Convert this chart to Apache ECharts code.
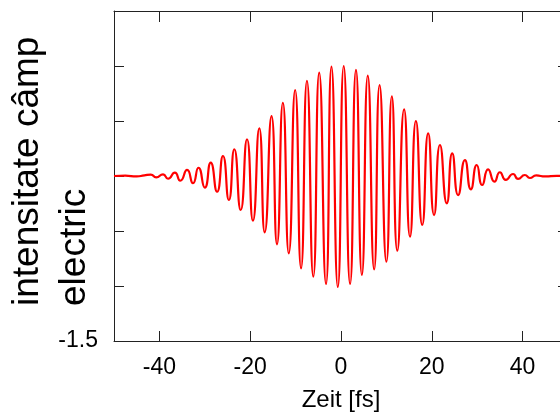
<!DOCTYPE html>
<html>
<head>
<meta charset="utf-8">
<script src="https://cdn.jsdelivr.net/npm/echarts@6/dist/echarts.min.js"></script>
<style>
html,body{margin:0;padding:0;background:#fff;}
#chart{width:560px;height:415px;}
</style>
</head>
<body>
<div id="chart"></div>
<script>
// Time axis values (fs): extrema of the field oscillation
const timeFs = [
  -50, -47.5, -45, -43.3,
  -41.9, -40.7, -39.2, -38.1, -36.6, -35.4, -33.9, -32.6, -31.4, -30.0,
  -28.7, -27.3, -26.0, -24.7, -23.5, -22.1, -20.7, -19.4, -18.0, -16.8,
  -15.3, -14.1, -12.8, -11.5, -10.1, -8.8, -7.5, -6.1, -4.8, -3.3,
  -2.1, -0.7, 0.6, 2.0, 3.3, 4.6, 5.9, 7.3, 8.5, 10.0,
  11.2, 12.4, 13.9, 15.2, 16.5, 17.9, 19.2, 20.5, 21.8, 23.3,
  24.5, 25.8, 27.3, 28.6, 29.9, 31.1, 32.4, 33.8, 35.0, 36.3,
  37.9, 39.0, 40.5, 41.6,
  43.0, 45.0, 47.5, 50
];
// Electric field intensity values at those times
const fieldValues = [
  0, 0.003, -0.004, 0.006,
  0.012, -0.012, 0.015, -0.025, 0.030, -0.043, 0.055, -0.066, 0.075, -0.106,
  0.121, -0.143, 0.182, -0.218, 0.243, -0.309, 0.334, -0.406, 0.434, -0.512,
  0.545, -0.621, 0.666, -0.703, 0.782, -0.839, 0.866, -0.915, 0.939, -0.982,
  0.994, -1.009, 1.000, -0.982, 0.964, -0.900, 0.912, -0.850, 0.827, -0.779,
  0.725, -0.679, 0.606, -0.552, 0.500, -0.445, 0.388, -0.355, 0.282, -0.248,
  0.206, -0.173, 0.145, -0.121, 0.100, -0.082, 0.061, -0.052, 0.034, -0.036,
  0.018, -0.027, 0.009, -0.018,
  0.005, -0.004, 0.002, 0
];
const xTickValues = [-40, -20, 0, 20, 40];
const yTickValues = [-1.5, -1.0, -0.5, 0, 0.5, 1.0, 1.5];
const yTickLabels = ['-1.5', '', '', '', '', '', ''];
const xAxisTitle = 'Zeit [fs]';
const yAxisTitle = 'intensitate câmp\nelectric';

const seriesData = timeFs.map((t, i) => [t, fieldValues[i]]);

const chart = echarts.init(document.getElementById('chart'), null, {renderer: 'canvas'});
const axisColor = '#222';
const font = 'Liberation Sans, Arial, Helvetica, sans-serif';

chart.setOption({
  animation: false,
  backgroundColor: '#fff',
  grid: {left: 114, top: 11, width: 454, height: 330, containLabel: false, outerBoundsMode: 'none'},
  xAxis: [
    {
      type: 'value', min: -50, max: 50, position: 'bottom',
      axisLine: {show: true, onZero: false, lineStyle: {color: axisColor, width: 1}},
      axisTick: {show: true, inside: true, length: 10, customValues: xTickValues, lineStyle: {color: axisColor}},
      axisLabel: {show: true, customValues: xTickValues, margin: 15, fontSize: 23, color: '#000', fontFamily: font},
      splitLine: {show: false},
      name: xAxisTitle, nameLocation: 'middle', nameGap: 47,
      nameTextStyle: {fontSize: 24, color: '#000', fontFamily: font}
    },
    {
      type: 'value', min: -50, max: 50, position: 'top',
      axisLine: {show: true, onZero: false, lineStyle: {color: axisColor, width: 1}},
      axisTick: {show: true, inside: true, length: 11, customValues: xTickValues, lineStyle: {color: axisColor}},
      axisLabel: {show: false},
      splitLine: {show: false}
    }
  ],
  yAxis: [
    {
      type: 'value', min: -1.5, max: 1.5, interval: 0.5, position: 'left',
      axisLine: {show: true, onZero: false, lineStyle: {color: axisColor, width: 1}},
      axisTick: {show: true, inside: true, length: 10, lineStyle: {color: axisColor}},
      axisLabel: {
        show: true, margin: 16, fontSize: 23, color: '#000', fontFamily: font,
        formatter: (v) => {
          const idx = yTickValues.findIndex(t => Math.abs(t - v) < 1e-9);
          return idx >= 0 ? yTickLabels[idx] : '';
        }
      },
      splitLine: {show: false}
    },
    {
      type: 'value', min: -1.5, max: 1.5, interval: 0.5, position: 'right',
      axisLine: {show: true, onZero: false, lineStyle: {color: axisColor, width: 1}},
      axisTick: {show: true, inside: true, length: 10, lineStyle: {color: axisColor}},
      axisLabel: {show: false},
      splitLine: {show: false}
    }
  ],
  graphic: [
    {
      type: 'text',
      x: 4, y: 306,
      rotation: Math.PI / 2,
      style: {
        text: yAxisTitle,
        fontSize: 37,
        lineHeight: 47,
        fontFamily: font,
        fill: '#000',
        align: 'left',
        verticalAlign: 'top'
      }
    }
  ],
  series: [
    {
      type: 'line',
      data: seriesData,
      xAxisIndex: 0, yAxisIndex: 0,
      smooth: 0.6,
      showSymbol: false,
      symbol: 'none',
      lineStyle: {color: '#ff0000', width: 2.2},
      clip: true
    }
  ]
});
</script>
</body>
</html>
